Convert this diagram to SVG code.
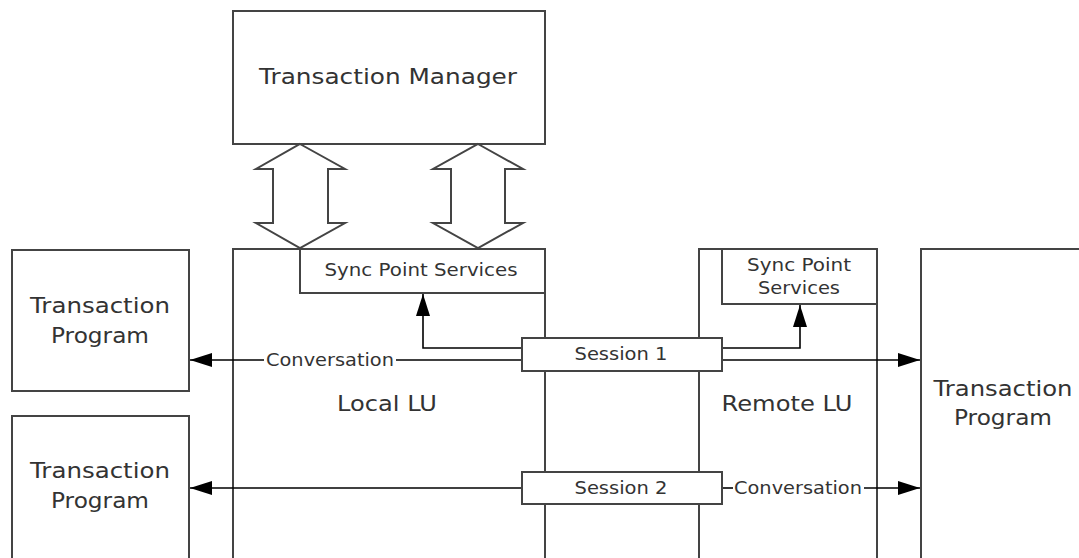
<svg xmlns="http://www.w3.org/2000/svg" width="1079" height="558" viewBox="0 0 1079 558">
<style>
.box{fill:#fff;stroke:#444;stroke-width:2}
.big{font-family:"DejaVu Sans","Liberation Sans",sans-serif;font-size:22px;fill:#333;text-anchor:middle}
.sm{font-family:"DejaVu Sans","Liberation Sans",sans-serif;font-size:18px;fill:#333;text-anchor:middle}
.ln{fill:none;stroke:#000;stroke-width:1.6}
</style>
<defs>
<marker id="ah" markerWidth="22" markerHeight="14" refX="22" refY="7" orient="auto" markerUnits="userSpaceOnUse">
<path d="M0,0 L22,7 L0,14 Z" fill="#000"/>
</marker>
</defs>
<rect width="1079" height="558" fill="#fff"/>
<g id="local-lu">
<rect class="box" x="233" y="249" width="312" height="320"/>
<text class="big" x="387" y="411" textLength="100" lengthAdjust="spacingAndGlyphs">Local LU</text>
</g>
<g id="remote-lu">
<rect class="box" x="699" y="249" width="178" height="320"/>
<text class="big" x="787" y="411" textLength="131" lengthAdjust="spacingAndGlyphs">Remote LU</text>
</g>
<g id="tm">
<rect class="box" x="233" y="11" width="312" height="133"/>
<text class="big" x="388" y="84" textLength="258" lengthAdjust="spacingAndGlyphs">Transaction Manager</text>
</g>
<g id="local-sps">
<rect class="box" x="300" y="249" width="245" height="44"/>
<text class="sm" x="421" y="276" textLength="193" lengthAdjust="spacingAndGlyphs">Sync Point Services</text>
</g>
<g id="remote-sps">
<rect class="box" x="722" y="249" width="155" height="55"/>
<text class="sm" x="799" y="271" textLength="104" lengthAdjust="spacingAndGlyphs">Sync Point</text>
<text class="sm" x="799" y="294" textLength="82" lengthAdjust="spacingAndGlyphs">Services</text>
</g>
<g id="tp1">
<rect class="box" x="12" y="250" width="177" height="141"/>
<text class="big" x="100" y="313" textLength="140" lengthAdjust="spacingAndGlyphs">Transaction</text>
<text class="big" x="100" y="343" textLength="98" lengthAdjust="spacingAndGlyphs">Program</text>
</g>
<g id="tp2">
<rect class="box" x="12" y="416" width="177" height="160"/>
<text class="big" x="100" y="478" textLength="140" lengthAdjust="spacingAndGlyphs">Transaction</text>
<text class="big" x="100" y="508" textLength="98" lengthAdjust="spacingAndGlyphs">Program</text>
</g>
<g id="tp3">
<rect class="box" x="921" y="249" width="170" height="330"/>
<text class="big" x="1003" y="396" textLength="139" lengthAdjust="spacingAndGlyphs">Transaction</text>
<text class="big" x="1003" y="425" textLength="98" lengthAdjust="spacingAndGlyphs">Program</text>
</g>
<g id="connectors">
<path class="box" d="M300,144 L345,169 L328,169 L328,223 L345,223 L300,248 L256,223 L273,223 L273,169 L256,169 Z"/>
<path class="box" d="M478,144 L523,169 L505,169 L505,223 L523,223 L478,248 L433,223 L451,223 L451,169 L433,169 Z"/>
<path class="ln" d="M522,348 L423,348 L423,294" marker-end="url(#ah)"/>
<path class="ln" d="M722,348 L800,348 L800,305" marker-end="url(#ah)"/>
<path class="ln" d="M522,360 L396,360"/>
<path class="ln" d="M264,360 L190,360" marker-end="url(#ah)"/>
<text class="sm" x="330" y="366" textLength="128" lengthAdjust="spacingAndGlyphs">Conversation</text>
<path class="ln" d="M722,360 L920,360" marker-end="url(#ah)"/>
<path class="ln" d="M522,488 L190,488" marker-end="url(#ah)"/>
<path class="ln" d="M722,488 L733,488"/>
<path class="ln" d="M864,488 L920,488" marker-end="url(#ah)"/>
<text class="sm" x="798" y="494" textLength="128" lengthAdjust="spacingAndGlyphs">Conversation</text>
</g>
<g id="session1">
<rect class="box" x="522" y="338" width="200" height="33"/>
<text class="sm" x="621" y="360" textLength="93" lengthAdjust="spacingAndGlyphs">Session 1</text>
</g>
<g id="session2">
<rect class="box" x="522" y="472" width="200" height="32"/>
<text class="sm" x="621" y="494" textLength="93" lengthAdjust="spacingAndGlyphs">Session 2</text>
</g>
</svg>
